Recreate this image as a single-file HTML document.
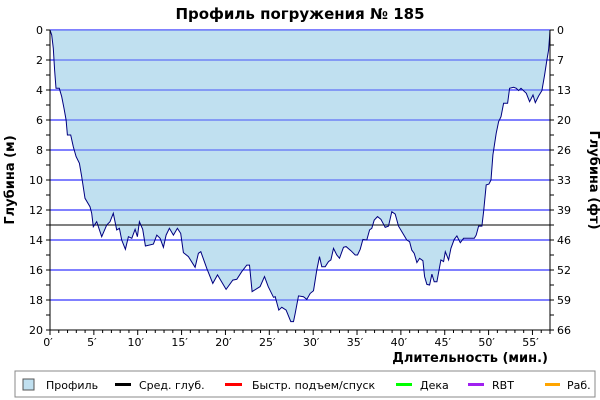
<!DOCTYPE html>
<html><head><meta charset="utf-8"><style>
body{margin:0;background:#fff;}
svg{display:block;font-family:"DejaVu Sans","Liberation Sans",sans-serif;}
</style></head><body>
<svg id="chart" width="600" height="400" viewBox="0 0 600 400">
<text x="300" y="19" text-anchor="middle" font-size="15" font-weight="bold">Профиль погружения № 185</text>
<g id="grid"></g>
<g id="area"></g>
<g id="axes"></g>
<text transform="translate(14,180) rotate(-90)" text-anchor="middle" font-size="13" font-weight="bold">Глубина (м)</text>
<text transform="translate(590,180) rotate(90)" text-anchor="middle" font-size="13" font-weight="bold">Глубина (фт)</text>
<text x="548" y="362" text-anchor="end" font-size="13" font-weight="bold">Длительность (мин.)</text>
<g>
<rect x="15" y="371" width="580" height="26" fill="#fff" stroke="#888"/>
<g><rect x="23" y="379" width="11" height="11" fill="#c0e0f0" stroke="#555"/><text x="46" y="389" font-size="11">Профиль</text></g>
<g><rect x="115" y="383" width="16" height="3" fill="#000"/><text x="139" y="389" font-size="11">Сред. глуб.</text></g>
<g><rect x="225" y="383" width="17" height="3" fill="#f00"/><text x="252" y="389" font-size="11">Быстр. подъем/спуск</text></g>
<g><rect x="396" y="383" width="16" height="3" fill="#0f0"/><text x="420" y="389" font-size="11">Дека</text></g>
<g><rect x="468" y="383" width="16" height="3" fill="#a020f0"/><text x="492" y="389" font-size="11">RBT</text></g>
<g><rect x="545" y="383" width="15" height="3" fill="#ffa500"/><text x="567" y="389" font-size="11">Раб.</text></g>
</g>
</svg>
<script>
const times=[0,0.19,0.38,0.53,0.68,1.06,1.33,1.6,1.83,1.98,2.36,2.66,2.97,3.35,3.61,3.99,4.56,4.75,4.94,5.32,5.89,6.46,6.84,7.22,7.6,7.91,8.17,8.59,8.94,9.32,9.7,9.96,10.19,10.57,10.87,11.79,12.17,12.55,12.93,13.23,13.61,14.07,14.52,14.9,15.21,15.78,16.54,16.92,17.19,17.87,18.56,19.09,20.08,20.84,21.29,21.86,22.43,22.74,23.04,23.95,24.45,24.87,25.48,25.67,26.08,26.43,26.92,27.45,27.76,27.95,28.33,28.9,29.28,29.66,30.04,30.42,30.72,30.99,31.37,31.75,32.02,32.32,32.7,33.0,33.46,33.76,34.3,34.79,35.06,35.36,35.67,36.12,36.43,36.69,36.96,37.34,37.72,38.21,38.59,38.97,39.35,39.73,40.11,40.68,40.99,41.25,41.52,41.83,42.13,42.51,42.7,42.97,43.27,43.54,43.8,44.11,44.56,44.87,45.06,45.44,45.7,46.08,46.39,46.77,47.15,47.72,48.37,48.59,48.86,49.24,49.43,49.73,50.04,50.27,50.49,50.87,51.14,51.41,51.71,52.17,52.4,52.85,53.16,53.42,53.69,54.3,54.68,55.06,55.32,55.7,56.08,56.39,56.65,56.84,56.96,57.0];
const depths=[0,0.33,1.22,2.67,3.89,3.89,4.44,5.22,6.0,7.0,7.0,7.78,8.44,8.89,9.78,11.22,11.78,12.22,13.11,12.78,13.78,13.0,12.78,12.22,13.33,13.22,14.0,14.62,13.78,13.89,13.29,13.78,12.78,13.29,14.4,14.27,13.67,13.89,14.49,13.67,13.22,13.67,13.22,13.56,14.84,15.11,15.82,14.89,14.78,15.89,16.89,16.33,17.29,16.67,16.62,16.11,15.67,15.67,17.44,17.11,16.44,17.11,17.82,17.78,18.67,18.49,18.67,19.44,19.44,18.89,17.73,17.78,17.96,17.56,17.38,16.0,15.11,15.78,15.78,15.44,15.33,14.56,15.0,15.22,14.49,14.44,14.71,15.0,15.0,14.62,13.96,14.0,13.33,13.22,12.67,12.44,12.62,13.16,13.07,12.11,12.27,13.07,13.44,14.0,14.11,14.67,14.89,15.51,15.22,15.38,16.44,16.96,17.0,16.27,16.78,16.78,15.33,15.44,14.78,15.33,14.56,13.96,13.73,14.18,13.89,13.89,13.89,13.67,13.07,13.07,12.11,10.33,10.27,10.0,8.33,6.89,6.11,5.78,4.89,4.89,3.89,3.82,3.89,4.04,3.89,4.22,4.78,4.33,4.84,4.4,4.04,3.0,2.0,1.33,0.44,0];
const avgDepth=[13];
const meterTicks=[0,2,4,6,8,10,12,14,16,18,20];
const feetTicks=["0","7","13","20","26","33","39","46","52","59","66"];
const minuteTicks=[0,5,10,15,20,25,30,35,40,45,50,55];
const maxTime=57, maxDepth=20;
const L=50,R=550,T=30,B=330;
const xs=t=>L+(R-L)*t/maxTime;
const ys=d=>T+(B-T)*d/maxDepth;
const NS='http://www.w3.org/2000/svg';
function mk(tag,attrs,parent){const e=document.createElementNS(NS,tag);for(const k in attrs)e.setAttribute(k,attrs[k]);parent.appendChild(e);return e;}
const grid=document.getElementById('grid'),area=document.getElementById('area'),axes=document.getElementById('axes');
meterTicks.forEach(m=>{
  const gl=mk('line',{x1:L,x2:R,y1:ys(m),y2:ys(m),stroke:'#0000ff','stroke-width':1},grid);
  
  
});
let d='M'+xs(times[0])+','+ys(0);
times.forEach((t,i)=>{d+=' L'+xs(t).toFixed(1)+','+ys(depths[i]).toFixed(1);});
const fillPath=mk('path',{d:d+' L'+xs(times[times.length-1])+','+ys(0)+' Z',fill:'#c0e0f0',stroke:'none'},area);


meterTicks.forEach(m=>{
  const gl=mk('line',{x1:L,x2:R,y1:ys(m),y2:ys(m),stroke:'#0000ff','stroke-opacity':0.62,'stroke-width':1},area);
  
  
});
const avgLine=mk('line',{x1:L,x2:R,y1:ys(avgDepth[0]),y2:ys(avgDepth[0]),stroke:'#000','stroke-width':1},area);


const prof=mk('path',{d:d,fill:'none',stroke:'#000080','stroke-width':1},area);


mk('line',{x1:L,x2:L,y1:T,y2:B+4,stroke:'#000'},axes);
mk('line',{x1:R,x2:R,y1:T,y2:B+4,stroke:'#000'},axes);
mk('line',{x1:L,x2:R,y1:B,y2:B,stroke:'#000'},axes);
for(let m=0;m<=maxDepth;m++){
  mk('line',{x1:L-4,x2:L,y1:ys(m),y2:ys(m),stroke:'#000'},axes);
  mk('line',{x1:R,x2:R+4,y1:ys(m),y2:ys(m),stroke:'#000'},axes);
}
meterTicks.forEach((m,i)=>{
  const t1=mk('text',{x:L-7,y:ys(m)+4,'text-anchor':'end','font-size':11},axes);
  t1.textContent=m;
  
  
  const t2=mk('text',{x:R+7,y:ys(m)+4,'font-size':11},axes);
  t2.textContent=feetTicks[i];
  
  
});
for(let t=0;t<=maxTime;t++){
  mk('line',{x1:xs(t),x2:xs(t),y1:B,y2:B+(t%5===0?5:3),stroke:'#000'},axes);
}
minuteTicks.forEach(t=>{
  const tx=mk('text',{x:xs(t)-2,y:B+16,'text-anchor':'middle','font-size':11},axes);
  tx.textContent=t+'\u2032';
  
  
});
</script>
</body></html>
